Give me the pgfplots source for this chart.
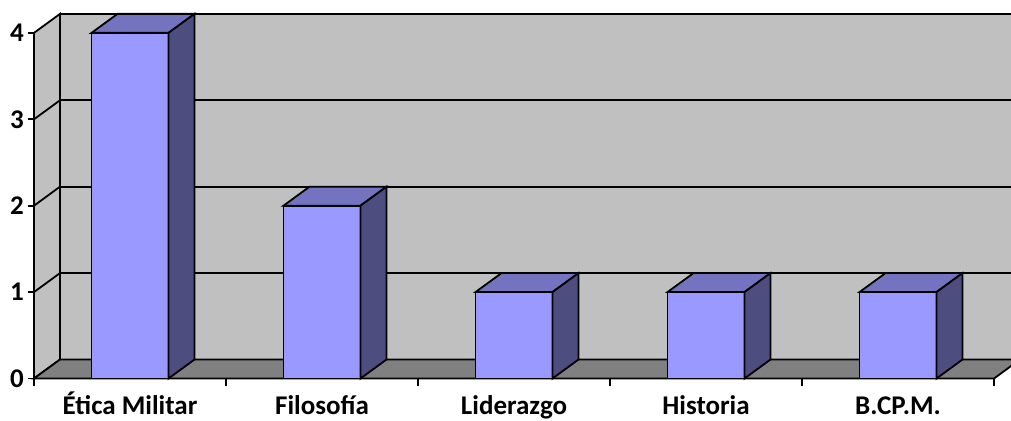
\documentclass[border=0pt]{standalone}
\usepackage{pgfplots}
\pgfplotsset{compat=1.18}
\usepackage{pgfplotstable}
\usepackage{fontspec}
\setmainfont{Carlito}

\definecolor{wallgray}{HTML}{C0C0C0}
\definecolor{floorgray}{HTML}{808080}
\definecolor{barfront}{HTML}{9999FF}
\definecolor{bartop}{HTML}{7373BF}
\definecolor{barside}{HTML}{4D4D80}

% 1pt here = 1px of the reference; depth offset 26 x 19
\pgfdeclareplotmark{cubeback}{%
  \pgfmathsetmacro\barH{\barval*86.4}%
  \pgfsetstrokecolor{black}%
  \pgfsetlinewidth{1.8pt}%
  \pgfsetfillcolor{bartop}%
  \pgfpathmoveto{\pgfpoint{-38.5pt}{0pt}}%
  \pgfpathlineto{\pgfpoint{38.5pt}{0pt}}%
  \pgfpathlineto{\pgfpoint{64.5pt}{19pt}}%
  \pgfpathlineto{\pgfpoint{-12.5pt}{19pt}}%
  \pgfpathclose
  \pgfusepath{fill,stroke}%
  \pgfsetfillcolor{barside}%
  \pgfpathmoveto{\pgfpoint{38.5pt}{0pt}}%
  \pgfpathlineto{\pgfpoint{64.5pt}{19pt}}%
  \pgfpathlineto{\pgfpoint{64.5pt}{19pt-\barH pt}}%
  \pgfpathlineto{\pgfpoint{38.5pt}{-\barH pt}}%
  \pgfpathclose
  \pgfusepath{fill,stroke}%
}

\pgfplotstableread{
x v
0.5 4
1.5 2
2.5 1
3.5 1
4.5 1
}\datatable

\begin{document}
\begin{tikzpicture}
\path[use as bounding box, clip] (-34pt,-41.5pt) rectangle (977pt,378.5pt);
\begin{axis}[
    at={(0pt,0pt)}, anchor=south west,
    scale only axis,
    x=192pt, y=86.4pt,
    xmin=0, xmax=5, ymin=0, ymax=4,
    clip=false,
    axis on top,
    axis lines=left,
    axis line style={-, black, line width=1.8pt},
    tick align=outside,
    major tick length=6pt,
    minor tick length=7pt,
    tick style={black, line width=1.8pt},
    major x tick style={draw=none},
    xtick={0.5,1.5,2.5,3.5,4.5},
    minor xtick={0,1,2,3,4,5},
    xticklabels={Ética Militar, Filosofía, Liderazgo, Historia, B.CP.M.},
    ytick={0,1,2,3,4},
    /pgf/number format/assume math mode=true,
    ticklabel style={font=\fontsize{27}{31}\selectfont\bfseries},
    xticklabel style={anchor=base, inner sep=0pt, yshift=-30pt},
    yticklabel style={inner sep=0pt, xshift=-4pt},
]
% back wall
\fill[wallgray, draw=black, line width=1.8pt] (axis cs:0.1354,0.22) rectangle (axis cs:5.1354,4.22);
\pgfplotsinvokeforeach{1,2,3}{
  \draw[black, line width=1.8pt] (axis cs:0.1354,#1.22) -- (axis cs:5.1354,#1.22);
}
% side wall
\fill[wallgray, draw=black, line width=1.8pt] (axis cs:0,0) -- (axis cs:0.1354,0.22) -- (axis cs:0.1354,4.22) -- (axis cs:0,4) -- cycle;
\pgfplotsinvokeforeach{1,2,3}{
  \draw[black, line width=1.8pt] (axis cs:0,#1) -- (axis cs:0.1354,#1.22);
}
% floor
\fill[floorgray, draw=black, line width=1.8pt] (axis cs:0,0) -- (axis cs:5,0) -- (axis cs:5.1354,0.22) -- (axis cs:0.1354,0.22) -- cycle;
% bars: front faces
\addplot[ybar, bar width=77pt, fill=barfront, draw=black, line width=1.8pt] table[x=x, y=v] {\datatable};
% bars: top and side faces
\addplot[scatter, only marks, mark=cubeback,
    visualization depends on={\thisrow{v} \as \barval}]
    table[x=x, y=v] {\datatable};
\end{axis}
\end{tikzpicture}
\end{document}
